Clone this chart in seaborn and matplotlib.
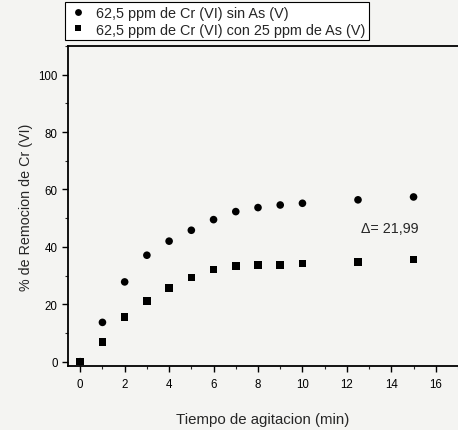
import matplotlib
matplotlib.use("Agg")
import matplotlib.pyplot as plt
import seaborn as sns
import pandas as pd
from matplotlib.ticker import MultipleLocator

tiempo = [0, 1, 2, 3, 4, 5, 6, 7, 8, 9, 10, 12.5, 15]
sin_as = [0, 13.7, 27.8, 37.1, 42.0, 45.8, 49.5, 52.3, 53.7, 54.6, 55.2, 56.4, 57.4]
con_as = [0, 6.8, 15.6, 21.2, 25.7, 29.4, 32.1, 33.3, 33.6, 33.7, 34.2, 34.7, 35.6]
serie1 = "62,5 ppm de Cr (VI) sin As (V)"
serie2 = "62,5 ppm de Cr (VI) con 25 ppm de As (V)"
x_ticks = [0, 2, 4, 6, 8, 10, 12, 14, 16]
y_ticks = [0, 20, 40, 60, 80, 100]
anotacion = "\u0394= 21,99"

df = pd.DataFrame({
    "t": tiempo + tiempo,
    "r": sin_as + con_as,
    "serie": [serie1] * len(tiempo) + [serie2] * len(tiempo),
})

sns.set_style("ticks")
plt.rcParams["font.family"] = ["Liberation Sans", "DejaVu Sans"]
bg = "#f4f4f2"
fig = plt.figure(figsize=(4.58, 4.31), dpi=100, facecolor=bg)
ax = fig.add_axes([68 / 458, (431 - 367) / 431, 1 - 68 / 458, (367 - 47) / 431])
ax.set_facecolor(bg)

sns.scatterplot(data=df, x="t", y="r", style="serie",
                markers={serie1: "o", serie2: "s"}, color="black",
                s=30, linewidth=0, ax=ax, legend=True)

ax.set_xlim(-0.55, 17.0)
ax.set_ylim(-1.5, 110)
ax.set_xticks(x_ticks)
ax.set_yticks(y_ticks)
ax.xaxis.set_minor_locator(MultipleLocator(1))
ax.yaxis.set_minor_locator(MultipleLocator(10))
ax.tick_params(which="major", direction="out", length=4, width=1, labelsize=8.3, colors="black")
ax.tick_params(axis="x", which="major", pad=5)
ax.tick_params(which="minor", direction="out", length=2.5, width=0.8)
ax.tick_params(top=False, right=False)
for side in ["left", "bottom", "top"]:
    ax.spines[side].set_linewidth(1.3)
    ax.spines[side].set_color("black")
ax.spines["right"].set_visible(False)

ax.set_xlabel("Tiempo de agitacion (min)", fontsize=10.8, labelpad=15.5)
ax.set_ylabel("% de Remocion de Cr (VI)", fontsize=10.3, labelpad=4)

ax.text(12.65, 46.5, anotacion, fontsize=10.3, va="center", ha="left")

handles, labels = ax.get_legend_handles_labels()
ax.legend(handles=handles, labels=labels, loc="upper left",
          bbox_to_anchor=(65 / 458, 1 - 3 / 431), bbox_transform=fig.transFigure,
          borderaxespad=0, frameon=True, fancybox=False, edgecolor="black",
          facecolor="white", framealpha=1, fontsize=10.4, handletextpad=0.6,
          borderpad=0.25, labelspacing=0.2, handlelength=1.3, markerscale=0.9)
ax.get_legend().get_frame().set_linewidth(0.8)

fig.savefig("out.png", dpi=100, facecolor=bg)
